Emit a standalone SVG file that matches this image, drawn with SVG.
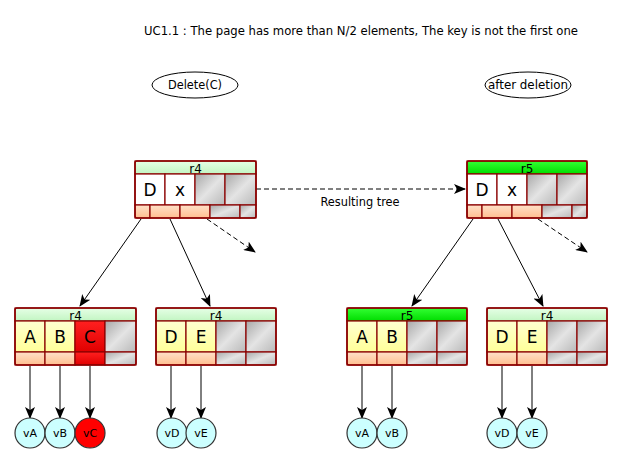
<svg xmlns="http://www.w3.org/2000/svg" width="633" height="464" viewBox="0 0 633 464">
<defs>
<linearGradient id="gHead" x1="0" y1="0" x2="0" y2="1"><stop offset="0" stop-color="#e6ffe6"/><stop offset="1" stop-color="#c2f5c2"/></linearGradient>
<linearGradient id="gHead5" x1="0" y1="0" x2="0" y2="1"><stop offset="0" stop-color="#33ff33"/><stop offset="1" stop-color="#00dd00"/></linearGradient>
<linearGradient id="gGray" x1="0" y1="0" x2="1" y2="1"><stop offset="0" stop-color="#a8a8a8"/><stop offset="0.5" stop-color="#e4e4e4"/><stop offset="1" stop-color="#b8b8b8"/></linearGradient>
<linearGradient id="gOr" x1="0" y1="0" x2="0" y2="1"><stop offset="0" stop-color="#ffe0c8"/><stop offset="1" stop-color="#ffbf90"/></linearGradient>
<linearGradient id="gYel" x1="0" y1="0" x2="0" y2="1"><stop offset="0" stop-color="#ffffd0"/><stop offset="1" stop-color="#ffff99"/></linearGradient>
<linearGradient id="gRed" x1="0" y1="0" x2="0" y2="1"><stop offset="0" stop-color="#ff2020"/><stop offset="1" stop-color="#e00000"/></linearGradient>
<marker id="ah" viewBox="0 0 12 10" refX="11" refY="5" markerWidth="12" markerHeight="10" orient="auto" markerUnits="userSpaceOnUse"><path d="M0,0 L12,5 L0,10 L3,5 Z" fill="#000"/></marker>
</defs>
<style>
.f{font-family:"Lucida Grande","DejaVu Sans","Liberation Sans",sans-serif;fill:#000}
.t{font-size:12px}
.h{font-size:12px;text-anchor:middle}
.k{font-size:17px;text-anchor:middle}
.c{font-size:11px;text-anchor:middle}
.box{fill:none;stroke:#8b0000;stroke-width:1.6}
.cell{stroke:#8b0000;stroke-width:1.2}
.w{fill:#fff}
.y{fill:url(#gYel)}
.g{fill:url(#gGray)}
.o{fill:url(#gOr)}
.r{fill:url(#gRed)}
.hd{fill:url(#gHead)}
.hd5{fill:url(#gHead5)}
.ln{stroke:#000;stroke-width:1;fill:none;marker-end:url(#ah)}
.ds{stroke-dasharray:5,3}
.circ{fill:#ccffff;stroke:#333;stroke-width:1.2}
.circr{fill:#ff0000;stroke:#333;stroke-width:1.2}
.el{fill:#fff;stroke:#000;stroke-width:1}
</style>

<text class="f t" x="144" y="35" textLength="434" lengthAdjust="spacingAndGlyphs">UC1.1 : The page has more than N/2 elements, The key is not the first one</text>

<g id="delete-label">
<ellipse class="el" cx="195" cy="85" rx="43" ry="13"/>
<text class="f t" x="195" y="89" text-anchor="middle" textLength="54" lengthAdjust="spacingAndGlyphs">Delete(C)</text>
</g>
<g id="after-label">
<ellipse class="el" cx="528" cy="85" rx="43" ry="13"/>
<text class="f t" x="528" y="89" text-anchor="middle" textLength="80" lengthAdjust="spacingAndGlyphs">after deletion</text>
</g>

<g id="connectors">
<line class="ln ds" x1="256" y1="189" x2="465" y2="189"/>
<text class="f t" x="360" y="206" text-anchor="middle" textLength="79" lengthAdjust="spacingAndGlyphs">Resulting tree</text>
<line class="ln" x1="141" y1="219" x2="80" y2="306"/>
<line class="ln" x1="170" y1="219" x2="210" y2="306"/>
<line class="ln ds" x1="207" y1="219" x2="255" y2="252"/>
<line class="ln" x1="473" y1="219" x2="412" y2="306"/>
<line class="ln" x1="498" y1="219" x2="543" y2="306"/>
<line class="ln ds" x1="538" y1="219" x2="587" y2="252"/>
<line class="ln" x1="30" y1="366" x2="30" y2="418"/>
<line class="ln" x1="60" y1="366" x2="60" y2="418"/>
<line class="ln" x1="90" y1="366" x2="90" y2="418"/>
<line class="ln" x1="171" y1="366" x2="171" y2="418"/>
<line class="ln" x1="201" y1="366" x2="201" y2="418"/>
<line class="ln" x1="362" y1="366" x2="362" y2="418"/>
<line class="ln" x1="392" y1="366" x2="392" y2="418"/>
<line class="ln" x1="502" y1="366" x2="502" y2="418"/>
<line class="ln" x1="532" y1="366" x2="532" y2="418"/>
</g>

<g id="top-r4">
<rect x="135" y="161" width="121" height="13" class="cell hd"/>
<text class="f h" x="195.5" y="172.5">r4</text>
<rect x="135" y="174" width="30" height="31" class="cell w"/>
<rect x="165" y="174" width="30" height="31" class="cell w"/>
<rect x="195" y="174" width="30" height="31" class="cell g"/>
<rect x="225" y="174" width="31" height="31" class="cell g"/>
<text class="f k" x="150" y="196">D</text>
<text class="f k" x="180" y="196">x</text>
<rect x="135" y="205" width="15" height="13" class="cell o"/>
<rect x="150" y="205" width="30" height="13" class="cell o"/>
<rect x="180" y="205" width="30" height="13" class="cell o"/>
<rect x="210" y="205" width="30" height="13" class="cell g"/>
<rect x="240" y="205" width="16" height="13" class="cell g"/>
<rect x="135" y="161" width="121" height="57" rx="2" class="box"/>
</g>

<g id="leaf-ABC">
<rect x="15" y="308" width="121" height="13" class="cell hd"/>
<text class="f h" x="75.5" y="319.5">r4</text>
<rect x="15" y="321" width="30" height="31" class="cell y"/>
<rect x="45" y="321" width="30" height="31" class="cell y"/>
<rect x="75" y="321" width="30" height="31" class="cell r"/>
<rect x="105" y="321" width="31" height="31" class="cell g"/>
<text class="f k" x="30" y="343">A</text>
<text class="f k" x="60" y="343">B</text>
<text class="f k" x="90" y="343">C</text>
<rect x="15" y="352" width="30" height="13" class="cell o"/>
<rect x="45" y="352" width="30" height="13" class="cell o"/>
<rect x="75" y="352" width="30" height="13" class="cell r"/>
<rect x="105" y="352" width="31" height="13" class="cell g"/>
<rect x="15" y="308" width="121" height="57" rx="2" class="box"/>
</g>

<g id="leaf-DE">
<rect x="156" y="308" width="120" height="13" class="cell hd"/>
<text class="f h" x="216" y="319.5">r4</text>
<rect x="156" y="321" width="30" height="31" class="cell y"/>
<rect x="186" y="321" width="30" height="31" class="cell y"/>
<rect x="216" y="321" width="30" height="31" class="cell g"/>
<rect x="246" y="321" width="30" height="31" class="cell g"/>
<text class="f k" x="171" y="343">D</text>
<text class="f k" x="201" y="343">E</text>
<rect x="156" y="352" width="30" height="13" class="cell o"/>
<rect x="186" y="352" width="30" height="13" class="cell o"/>
<rect x="216" y="352" width="30" height="13" class="cell g"/>
<rect x="246" y="352" width="30" height="13" class="cell g"/>
<rect x="156" y="308" width="120" height="57" rx="2" class="box"/>
</g>

<g id="top-r5">
<rect x="467" y="161" width="120" height="13" class="cell hd5"/>
<text class="f h" x="527" y="172.5">r5</text>
<rect x="467" y="174" width="30" height="31" class="cell w"/>
<rect x="497" y="174" width="30" height="31" class="cell w"/>
<rect x="527" y="174" width="30" height="31" class="cell g"/>
<rect x="557" y="174" width="30" height="31" class="cell g"/>
<text class="f k" x="482" y="196">D</text>
<text class="f k" x="512" y="196">x</text>
<rect x="467" y="205" width="15" height="13" class="cell o"/>
<rect x="482" y="205" width="30" height="13" class="cell o"/>
<rect x="512" y="205" width="30" height="13" class="cell o"/>
<rect x="542" y="205" width="30" height="13" class="cell g"/>
<rect x="572" y="205" width="15" height="13" class="cell g"/>
<rect x="467" y="161" width="120" height="57" rx="2" class="box"/>
</g>

<g id="leaf-AB">
<rect x="347" y="308" width="120" height="13" class="cell hd5"/>
<text class="f h" x="407" y="319.5">r5</text>
<rect x="347" y="321" width="30" height="31" class="cell y"/>
<rect x="377" y="321" width="30" height="31" class="cell y"/>
<rect x="407" y="321" width="30" height="31" class="cell g"/>
<rect x="437" y="321" width="30" height="31" class="cell g"/>
<text class="f k" x="362" y="343">A</text>
<text class="f k" x="392" y="343">B</text>
<rect x="347" y="352" width="30" height="13" class="cell o"/>
<rect x="377" y="352" width="30" height="13" class="cell o"/>
<rect x="407" y="352" width="30" height="13" class="cell g"/>
<rect x="437" y="352" width="30" height="13" class="cell g"/>
<rect x="347" y="308" width="120" height="57" rx="2" class="box"/>
</g>

<g id="leaf-DE2">
<rect x="487" y="308" width="120" height="13" class="cell hd"/>
<text class="f h" x="547" y="319.5">r4</text>
<rect x="487" y="321" width="30" height="31" class="cell y"/>
<rect x="517" y="321" width="30" height="31" class="cell y"/>
<rect x="547" y="321" width="30" height="31" class="cell g"/>
<rect x="577" y="321" width="30" height="31" class="cell g"/>
<text class="f k" x="502" y="343">D</text>
<text class="f k" x="532" y="343">E</text>
<rect x="487" y="352" width="30" height="13" class="cell o"/>
<rect x="517" y="352" width="30" height="13" class="cell o"/>
<rect x="547" y="352" width="30" height="13" class="cell g"/>
<rect x="577" y="352" width="30" height="13" class="cell g"/>
<rect x="487" y="308" width="120" height="57" rx="2" class="box"/>
</g>

<g id="vA"><circle class="circ" cx="30" cy="433" r="15"/><text class="f c" x="30" y="437">vA</text></g>
<g id="vB"><circle class="circ" cx="60" cy="433" r="15"/><text class="f c" x="60" y="437">vB</text></g>
<g id="vC"><circle class="circr" cx="90" cy="433" r="15"/><text class="f c" x="90" y="437">vC</text></g>
<g id="vD"><circle class="circ" cx="172" cy="433" r="15"/><text class="f c" x="172" y="437">vD</text></g>
<g id="vE"><circle class="circ" cx="201" cy="433" r="15"/><text class="f c" x="201" y="437">vE</text></g>
<g id="vA2"><circle class="circ" cx="362" cy="433" r="15"/><text class="f c" x="362" y="437">vA</text></g>
<g id="vB2"><circle class="circ" cx="392" cy="433" r="15"/><text class="f c" x="392" y="437">vB</text></g>
<g id="vD2"><circle class="circ" cx="502" cy="433" r="15"/><text class="f c" x="502" y="437">vD</text></g>
<g id="vE2"><circle class="circ" cx="532" cy="433" r="15"/><text class="f c" x="532" y="437">vE</text></g>
</svg>
